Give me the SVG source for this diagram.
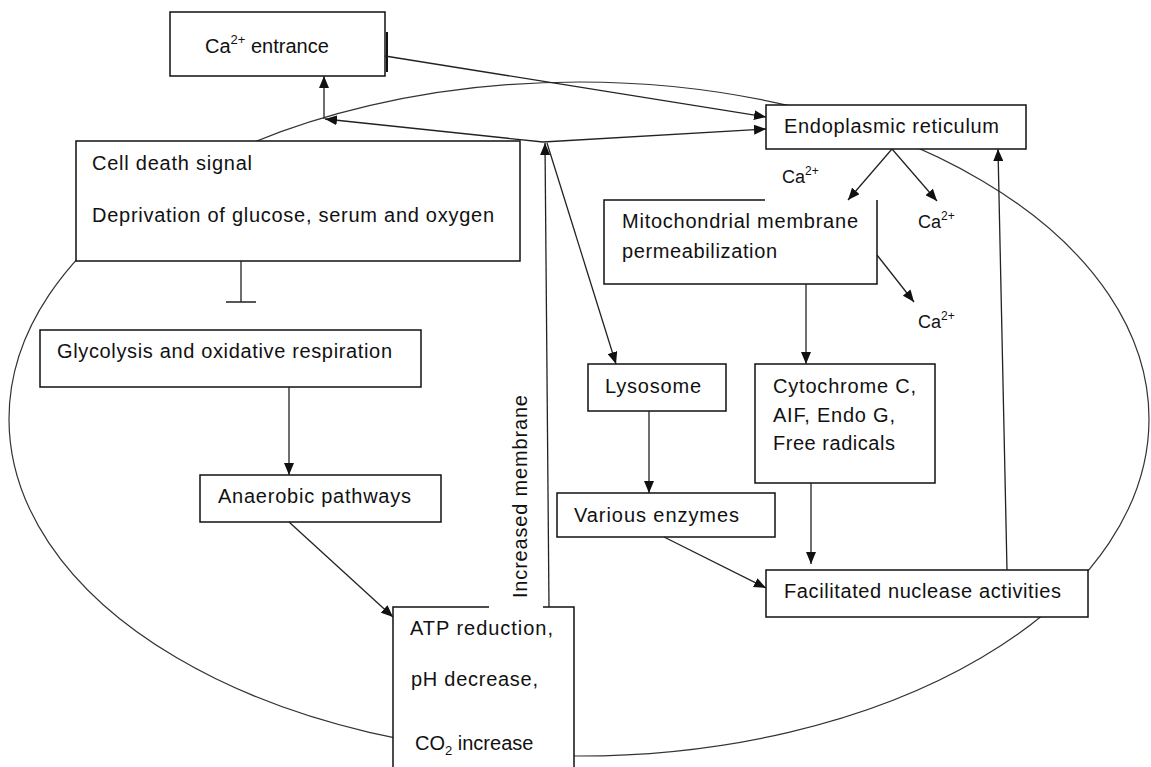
<svg xmlns="http://www.w3.org/2000/svg" width="1151" height="767" viewBox="0 0 1151 767">
<style>
.box{fill:#fff;stroke:#111;stroke-width:1.5}
.bg{fill:#fff;stroke:none}
.bd{fill:none;stroke:#111;stroke-width:1.5}
.edge{fill:none;stroke:#222;stroke-width:1.3}
.arr{marker-end:url(#ah)}
.ell{fill:none;stroke:#333;stroke-width:1.2}
text{font-family:"Liberation Sans",Arial,sans-serif;font-size:20px;fill:#111}
.sm{font-size:18px}
</style>
<defs>
<marker id="ah" markerUnits="userSpaceOnUse" markerWidth="12" markerHeight="10" refX="12" refY="5" orient="auto" viewBox="0 0 12 10"><path d="M0,0L12,5L0,10z" fill="#111"/></marker>
</defs>
<rect width="1151" height="767" fill="#fff"/>
<g id="cell-outline"><ellipse class="ell" cx="579" cy="419" rx="570" ry="337"/></g>

<g id="n-ca-entrance"><rect class="box" x="170" y="12" width="215" height="64"/><path d="M387,32V72" stroke="#111" stroke-width="2"/><text x="205" y="53">Ca<tspan font-size="13" dy="-9">2+</tspan><tspan dy="9"> entrance</tspan></text></g>
<g id="n-cell-death"><rect class="box" x="76" y="141" width="444" height="120"/><text x="92" y="170" textLength="160">Cell death signal</text><text x="92" y="222" textLength="402">Deprivation of glucose, serum and oxygen</text></g>
<g id="n-glycolysis"><rect class="box" x="40" y="330" width="381" height="57"/><text x="57" y="358" textLength="335">Glycolysis and oxidative respiration</text></g>
<g id="n-anaerobic"><rect class="box" x="200" y="475" width="241" height="47"/><text x="218" y="503" textLength="193">Anaerobic pathways</text></g>
<g id="n-atp"><rect class="bg" x="393" y="607" width="181" height="170"/><path class="bd" d="M489,607H393V775M574,775V607H543"/><text x="410" y="635" textLength="143">ATP reduction,</text><text x="411" y="686" textLength="127">pH decrease,</text><text x="415" y="750">CO<tspan font-size="13" dy="5">2</tspan><tspan dy="-5"> increase</tspan></text></g>
<g id="n-er"><rect class="box" x="766" y="105" width="260" height="44"/><text x="784" y="133" textLength="215">Endoplasmic reticulum</text></g>
<g id="n-mito"><rect class="bg" x="604" y="200" width="273" height="84"/><path class="bd" d="M765,200H604V284H877V200"/><text x="622" y="228" textLength="236">Mitochondrial membrane</text><text x="622" y="258" textLength="155">permeabilization</text></g>
<g id="n-lysosome"><rect class="box" x="588" y="364" width="138" height="47"/><text x="605" y="393" textLength="96">Lysosome</text></g>
<g id="n-cytochrome"><rect class="box" x="755" y="364" width="180" height="119"/><text x="773" y="393" textLength="143">Cytochrome C,</text><text x="773" y="422" textLength="122">AIF, Endo G,</text><text x="773" y="450" textLength="122">Free radicals</text></g>
<g id="n-enzymes"><rect class="box" x="557" y="493" width="218" height="44"/><text x="574" y="522" textLength="165">Various enzymes</text></g>
<g id="n-nuclease"><rect class="box" x="766" y="570" width="322" height="47"/><text x="784" y="598" textLength="277">Facilitated nuclease activities</text></g>
<g id="l-membrane"><text transform="translate(527,598) rotate(-90)" textLength="203">Increased membrane</text></g>
<g id="l-ca1"><text class="sm" x="782" y="183">Ca<tspan font-size="12" dy="-8">2+</tspan></text></g>
<g id="l-ca2"><text class="sm" x="918" y="228">Ca<tspan font-size="12" dy="-8">2+</tspan></text></g>
<g id="l-ca3"><text class="sm" x="918" y="328">Ca<tspan font-size="12" dy="-8">2+</tspan></text></g>

<g id="connectors">
<line class="edge arr" x1="385" y1="56" x2="766" y2="117"/>
<line class="edge arr" x1="324" y1="119" x2="324" y2="76"/>
<line class="edge arr" x1="543" y1="142" x2="325" y2="119"/>
<line class="edge arr" x1="543" y1="142" x2="766" y2="129"/>
<line class="edge arr" x1="549" y1="607" x2="545" y2="143"/>
<line class="edge arr" x1="547" y1="143" x2="616" y2="364"/>
<path class="edge" d="M241,261V302M226,302H256"/>
<line class="edge arr" x1="289" y1="387" x2="289" y2="475"/>
<line class="edge arr" x1="289" y1="522" x2="393" y2="617"/>
<line class="edge arr" x1="892" y1="149" x2="848" y2="200"/>
<line class="edge arr" x1="892" y1="149" x2="937" y2="201"/>
<line class="edge arr" x1="877" y1="255" x2="914" y2="302"/>
<line class="edge arr" x1="806" y1="284" x2="806" y2="364"/>
<line class="edge arr" x1="649" y1="411" x2="649" y2="493"/>
<line class="edge arr" x1="811" y1="483" x2="811" y2="564"/>
<line class="edge arr" x1="664" y1="537" x2="766" y2="588"/>
<line class="edge arr" x1="1007" y1="570" x2="998" y2="149"/>
</g>
</svg>
